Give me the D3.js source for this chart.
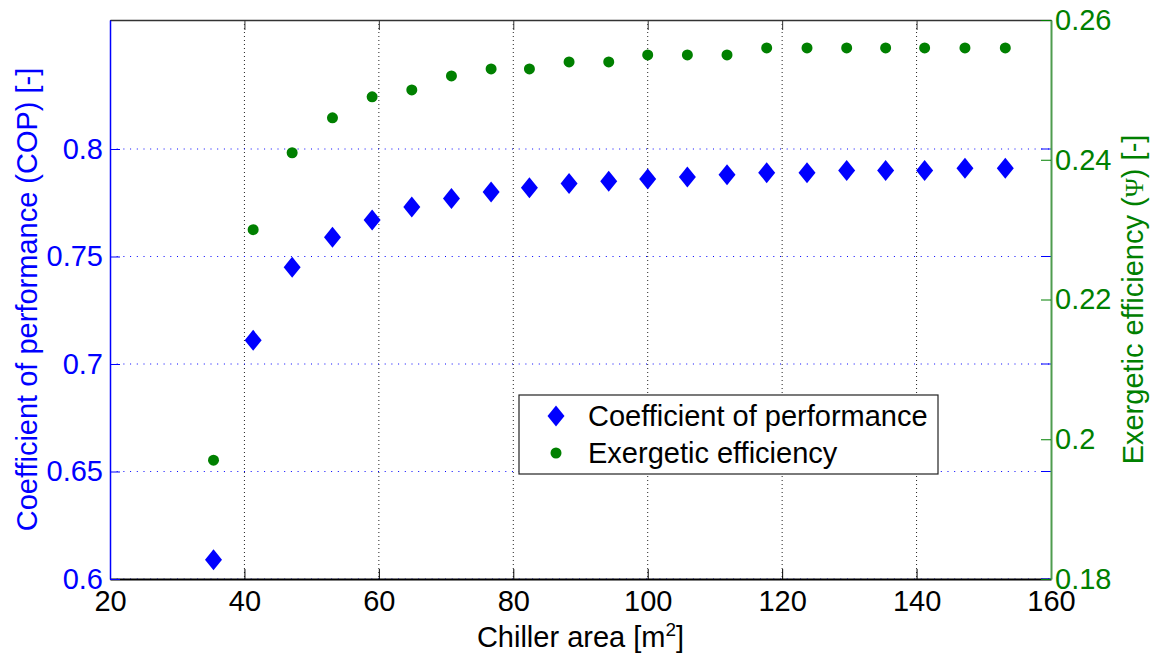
<!DOCTYPE html>
<html>
<head>
<meta charset="utf-8">
<script src="https://cdn.jsdelivr.net/npm/d3@7"></script>
<style>
  body { margin: 0; background: #fff; }
  text { font-family: "Liberation Sans", Arial, sans-serif; }
</style>
</head>
<body>
<svg id="chart"></svg>
<script>
const width = 1158;
const height = 662;
const margin = { top: 20, right: 107, bottom: 83, left: 110 };

// chiller area [m2]
const area = [35.4, 41.3, 47.1, 53.1, 59.0, 64.9, 70.8, 76.7, 82.4, 88.3, 94.2,
              100.0, 105.9, 111.8, 117.7, 123.7, 129.6, 135.4, 141.2, 147.2, 153.2];
// coefficient of performance
const cop = [0.609, 0.711, 0.745, 0.759, 0.767, 0.773, 0.777, 0.780, 0.782, 0.784, 0.785,
             0.786, 0.787, 0.788, 0.789, 0.789, 0.790, 0.790, 0.790, 0.791, 0.791];
// exergetic efficiency
const psi = [0.197, 0.230, 0.241, 0.246, 0.249, 0.250, 0.252, 0.253, 0.253, 0.254, 0.254,
             0.255, 0.255, 0.255, 0.256, 0.256, 0.256, 0.256, 0.256, 0.256, 0.256];

const xTicks = [20, 40, 60, 80, 100, 120, 140, 160];
const yLeftTicks = [0.6, 0.65, 0.7, 0.75, 0.8];
const yRightTicks = [0.18, 0.2, 0.22, 0.24, 0.26];

const blue = "#0000ff";
const green = "#008000";
const fs = 29;

const svg = d3.select("#chart").attr("width", width).attr("height", height);

const x = d3.scaleLinear().domain([20, 160]).range([margin.left, width - margin.right]);
const yL = d3.scaleLinear().domain([0.6, 0.86]).range([height - margin.bottom, margin.top]);
const yR = d3.scaleLinear().domain([0.18, 0.26]).range([height - margin.bottom, margin.top]);

const x0 = x.range()[0], x1 = x.range()[1];
const yb = yL.range()[0], yt = yL.range()[1];

// grid
svg.append("g").selectAll("line")
    .data(xTicks.slice(1, -1))
    .enter().append("line")
    .attr("x1", d => x(d)).attr("x2", d => x(d))
    .attr("y1", yt).attr("y2", yb)
    .attr("stroke", "#222").attr("stroke-width", 1)
    .attr("stroke-dasharray", "1,3");

svg.append("g").selectAll("line")
    .data(yLeftTicks)
    .enter().append("line")
    .attr("x1", x0).attr("x2", x1)
    .attr("y1", d => yL(d)).attr("y2", d => yL(d))
    .attr("stroke", blue).attr("stroke-width", 1)
    .attr("stroke-dasharray", "1,5.7");

// axes
const bottomAxis = svg.append("g")
    .attr("transform", `translate(0,${yb})`)
    .call(d3.axisBottom(x).tickValues(xTicks).tickSizeInner(-10).tickSizeOuter(0).tickPadding(11));
bottomAxis.select(".domain").attr("stroke", "#000").attr("stroke-width", 2);
bottomAxis.selectAll(".tick line").attr("stroke", "#000");
bottomAxis.selectAll("text").attr("font-size", fs).attr("fill", "#000")
    .attr("font-family", "Liberation Sans, Arial, sans-serif").attr("dy", "0.72em");

const topAxis = svg.append("g")
    .attr("transform", `translate(0,${yt})`)
    .call(d3.axisTop(x).tickValues(xTicks).tickSizeInner(-10).tickSizeOuter(0).tickFormat(""));
topAxis.select(".domain").attr("stroke", "#333").attr("stroke-width", 1.5);
topAxis.selectAll(".tick line").attr("stroke", "#333");

const leftAxis = svg.append("g")
    .attr("transform", `translate(${x0},0)`)
    .call(d3.axisLeft(yL).tickValues(yLeftTicks).tickSizeInner(-10).tickSizeOuter(0).tickPadding(7)
        .tickFormat(d3.format("")));
leftAxis.select(".domain").attr("stroke", blue).attr("stroke-width", 1.5);
leftAxis.selectAll(".tick line").attr("stroke", blue);
leftAxis.selectAll("text").attr("font-size", fs).attr("fill", blue)
    .attr("font-family", "Liberation Sans, Arial, sans-serif");

// blue ticks mirrored on right edge
svg.append("g").selectAll("line")
    .data(yLeftTicks)
    .enter().append("line")
    .attr("x1", x1 - 10).attr("x2", x1)
    .attr("y1", d => yL(d)).attr("y2", d => yL(d))
    .attr("stroke", blue);

const rightAxis = svg.append("g")
    .attr("transform", `translate(${x1},0)`)
    .call(d3.axisRight(yR).tickValues(yRightTicks).tickSizeInner(-10).tickSizeOuter(0).tickPadding(4)
        .tickFormat(d3.format("")));
rightAxis.select(".domain").attr("stroke", "#4f9c4f").attr("stroke-width", 2);
rightAxis.selectAll(".tick line").attr("stroke", green);
rightAxis.selectAll("text").attr("font-size", fs).attr("fill", green)
    .attr("font-family", "Liberation Sans, Arial, sans-serif");

// markers
const diamond = (cx, cy, w, h) => `M${cx},${cy - h}L${cx + w},${cy}L${cx},${cy + h}L${cx - w},${cy}Z`;

svg.append("g").selectAll("circle")
    .data(area)
    .enter().append("circle")
    .attr("cx", d => x(d))
    .attr("cy", (d, i) => yR(psi[i]))
    .attr("r", 5.5)
    .attr("fill", green);

svg.append("g").selectAll("path")
    .data(area)
    .enter().append("path")
    .attr("d", (d, i) => diamond(x(d), yL(cop[i]), 8.5, 10.5))
    .attr("fill", blue);

// axis labels
const xl = svg.append("text")
    .attr("x", (x0 + x1) / 2)
    .attr("y", 647)
    .attr("text-anchor", "middle")
    .attr("font-size", fs)
    .attr("fill", "#000");
xl.append("tspan").text("Chiller area [m");
xl.append("tspan").text("2").attr("font-size", 19).attr("dy", -11);
xl.append("tspan").text("]").attr("dy", 11);

svg.append("text")
    .attr("transform", `translate(37,${(yt + yb) / 2}) rotate(-90)`)
    .attr("text-anchor", "middle")
    .attr("font-size", fs)
    .attr("fill", blue)
    .text("Coefficient of performance (COP) [-]");

const rl = svg.append("text")
    .attr("transform", `translate(1143,${(yt + yb) / 2}) rotate(-90)`)
    .attr("text-anchor", "middle")
    .attr("font-size", fs)
    .attr("fill", green);
rl.append("tspan").text("Exergetic efficiency (");
rl.append("tspan").text("Ψ").attr("font-family", "Liberation Serif, serif").attr("font-size", 26);
rl.append("tspan").text(") [-]");

// legend
const legend = svg.append("g").attr("transform", "translate(519,395)");
legend.append("rect")
    .attr("width", 419).attr("height", 79)
    .attr("fill", "#fff").attr("stroke", "#222").attr("stroke-width", 1.2);
legend.append("path")
    .attr("d", diamond(37, 21, 8.5, 10.5))
    .attr("fill", blue);
legend.append("circle")
    .attr("cx", 37).attr("cy", 58).attr("r", 5.5)
    .attr("fill", green);
legend.append("text")
    .attr("x", 69).attr("y", 31)
    .attr("font-size", fs).attr("fill", "#000")
    .text("Coefficient of performance");
legend.append("text")
    .attr("x", 69).attr("y", 68)
    .attr("font-size", fs).attr("fill", "#000")
    .text("Exergetic efficiency");
</script>
</body>
</html>
